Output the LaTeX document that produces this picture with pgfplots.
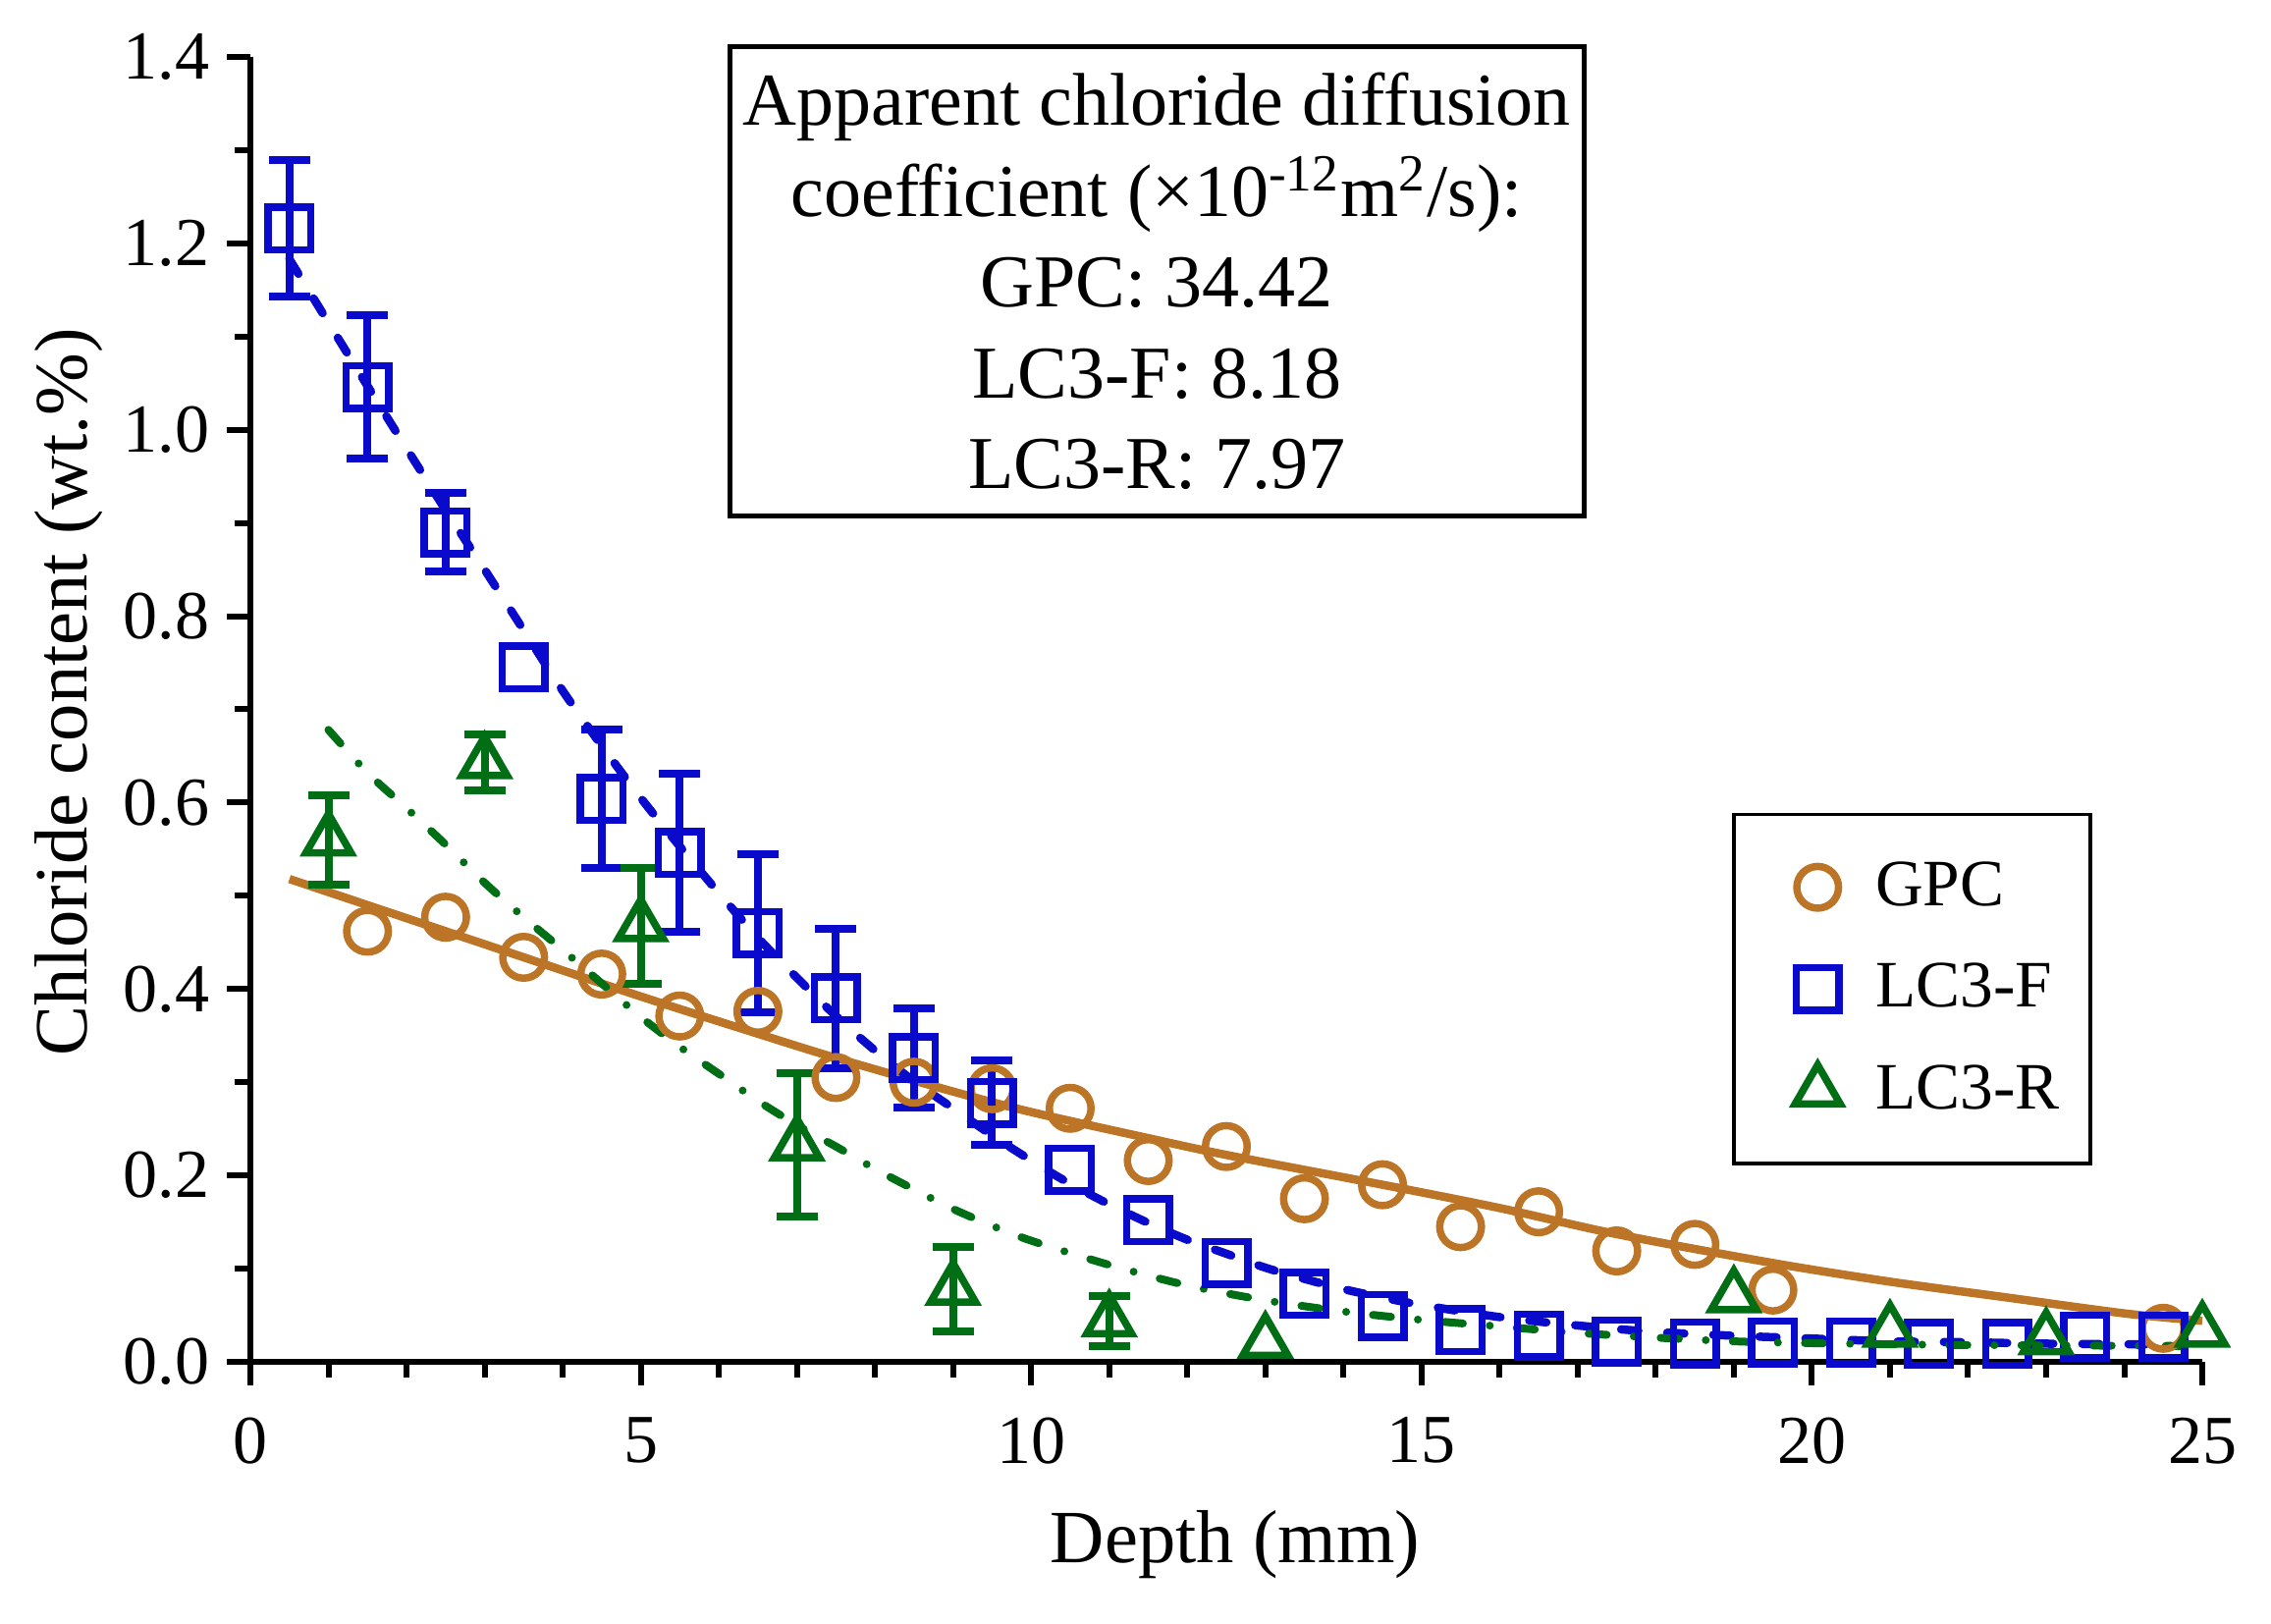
\documentclass[border=0pt]{standalone}
\usepackage{fontspec}
\setmainfont{Liberation Serif}
\usepackage{pgfplots}
\pgfplotsset{compat=1.18}
\definecolor{gpc}{RGB}{188,116,38}
\definecolor{lcf}{RGB}{10,10,205}
\definecolor{lcr}{RGB}{0,110,20}
\pgfplotsset{
  ebar/.style={error bars/.cd, y dir=both, y explicit,
    error bar style={line width=1.6pt},
    error mark options={rotate=90, line width=1.6pt, mark size=4.2pt}},
}
\begin{document}
\begin{tikzpicture}
\useasboundingbox (-51pt,-53.4pt) rectangle (411.6pt,277.4pt);
\begin{axis}[
  name=ax,
  scale only axis, width=397.6pt, height=265.8pt,
  xmin=0, xmax=25, ymin=0, ymax=1.4,
  axis lines=left, axis line style={line width=1.3pt,-},
  xtick={0,5,10,15,20,25}, ytick={0,0.2,0.4,0.6,0.8,1.0,1.2,1.4},
  minor x tick num=4, minor y tick num=1,
  tick align=outside, major tick length=4.8pt, minor tick length=3.2pt,
  every tick/.style={black, line width=1.2pt},
  tick label style={font=\fontsize{14}{16}\selectfont},
  xticklabel style={yshift=-3pt},
  /pgf/number format/assume math mode=true,
  yticklabel style={/pgf/number format/fixed, /pgf/number format/fixed zerofill, /pgf/number format/precision=1},
  xlabel={Depth (mm)}, ylabel={Chloride content (wt.\%)},
  label style={font=\fontsize{15.3}{18}\selectfont},
  xlabel style={at={(axis description cs:0.5045,-0.14)}, anchor=center},
  ylabel style={at={(axis description cs:-0.093,0.513)}, anchor=center},
  clip=false,
  legend cell align=left,
  legend image code/.code={\path (-12pt,0pt) (9pt,0pt); \draw[#1] plot coordinates {(0pt,0pt)};},
  legend style={at={(axis cs:18.98,0.589)}, anchor=north west, draw=black, line width=0.7pt,
    font=\fontsize{13.5}{16}\selectfont, inner xsep=4.3pt, inner ysep=7.6pt, row sep=6.3pt},
]
% fits
\addplot[forget plot, gpc, line width=1.7pt, smooth] coordinates {
(0.5,0.518) (1.5,0.490) (2.5,0.462) (3.5,0.434) (5,0.392) (6.5,0.352) (7.5,0.326) (9,0.290) (10,0.268) (11.5,0.240) (12.5,0.222) (14.5,0.190) (16,0.165) (17.5,0.137) (19.5,0.106) (21,0.086) (22.5,0.069) (24,0.052) (25,0.044)};
\addplot[forget plot, lcf, line width=1.7pt, line cap=round, dash pattern=on 3.5pt off 5.9pt, smooth] coordinates {
(0.5,1.183) (1,1.115) (1.5,1.047) (2,0.980) (2.5,0.914) (3,0.850) (3.5,0.785) (4,0.720) (4.5,0.661) (5,0.605) (5.5,0.553) (6,0.503) (6.5,0.455) (7,0.412) (7.5,0.371) (8,0.334) (8.5,0.301) (9,0.272) (9.5,0.243) (10,0.216) (10.5,0.191) (11,0.169) (11.5,0.149) (12,0.131) (12.5,0.116) (13,0.101) (13.5,0.089) (14,0.078) (14.5,0.069) (15,0.061) (16,0.048) (17,0.039) (18,0.032) (19,0.028) (20,0.025) (21,0.022) (22,0.021) (23,0.0195) (24.5,0.0187)};
\addplot[forget plot, lcr, line width=1.6pt, line cap=round, dash pattern=on 3.7pt off 5.5pt on 0pt off 5.5pt, smooth] coordinates {
(1,0.678) (1.5,0.632) (2,0.594) (2.5,0.555) (3,0.514) (3.5,0.477) (4,0.442) (4.5,0.406) (5,0.370) (5.5,0.338) (6,0.309) (6.5,0.280) (7,0.254) (7.5,0.231) (8,0.207) (8.5,0.185) (9,0.164) (9.5,0.146) (10,0.130) (11,0.104) (12,0.082) (13,0.066) (14,0.054) (15,0.045) (16,0.038) (17,0.031) (18,0.026) (19,0.022) (20,0.020) (22,0.018) (25,0.017)};
% GPC
\addplot[only marks, gpc, mark=o, mark size=4.25pt, line width=1.5pt] coordinates {
(1.5,0.462) (2.5,0.477) (3.5,0.434) (4.5,0.416) (5.5,0.371) (6.5,0.376) (7.5,0.305) (8.5,0.300) (9.5,0.293) (10.5,0.272) (11.5,0.216) (12.5,0.231) (13.5,0.175) (14.5,0.190) (15.5,0.145) (16.5,0.161) (17.5,0.119) (18.5,0.126) (19.5,0.077) (24.5,0.036)};
\addlegendentry{GPC}
% LC3-F
\addplot[forget plot, only marks, lcf, mark=square, mark size=4.35pt, line width=1.5pt, ebar] coordinates {
(0.5,1.216) +- (0,0.073)
(1.5,1.046) +- (0,0.077)
(2.5,0.890) +- (0,0.042)
(4.5,0.604) +- (0,0.074)
(5.5,0.546) +- (0,0.085)
(6.5,0.460) +- (0,0.085)
(7.5,0.390) +- (0,0.075)
(8.5,0.326) +- (0,0.053)
(9.5,0.278) +- (0,0.045)};
\addplot[only marks, lcf, mark=square, mark size=4.35pt, line width=1.5pt] coordinates {
(3.5,0.745) (10.5,0.206) (11.5,0.152) (12.5,0.106) (13.5,0.073) (14.5,0.049) (15.5,0.034) (16.5,0.028) (17.5,0.022) (18.5,0.020) (19.5,0.021) (20.5,0.021) (21.5,0.019) (22.5,0.019) (23.5,0.027) (24.5,0.027)};
\addlegendentry{LC3-F}
% LC3-R
\addplot[forget plot, only marks, lcr, mark=triangle, mark size=5.3pt, line width=1.5pt, ebar] coordinates {
(1,0.560) +- (0,0.048)
(3,0.643) +- (0,0.030)
(5,0.468) +- (0,0.062)
(7,0.233) +- (0,0.077)
(9,0.078) +- (0,0.045)
(11,0.044) +- (0,0.027)};
\addplot[only marks, lcr, mark=triangle, mark size=5.3pt, line width=1.5pt] coordinates {
(13,0.021) (19,0.070) (21,0.033) (23,0.025) (25,0.033)};
\addlegendentry{LC3-R}
\node[draw=black, line width=1pt, fill=white, minimum width=174pt, minimum height=95.5pt, inner sep=0pt, align=center, font=\fontsize{15.2}{18.5}\selectfont] at (axis cs:11.61,1.159)
 {Apparent chloride diffusion\\coefficient (×10\textsuperscript{-12}m\textsuperscript{2}/s):\\GPC: 34.42\\LC3-F: 8.18\\LC3-R: 7.97};
\end{axis}
\end{tikzpicture}
\end{document}
